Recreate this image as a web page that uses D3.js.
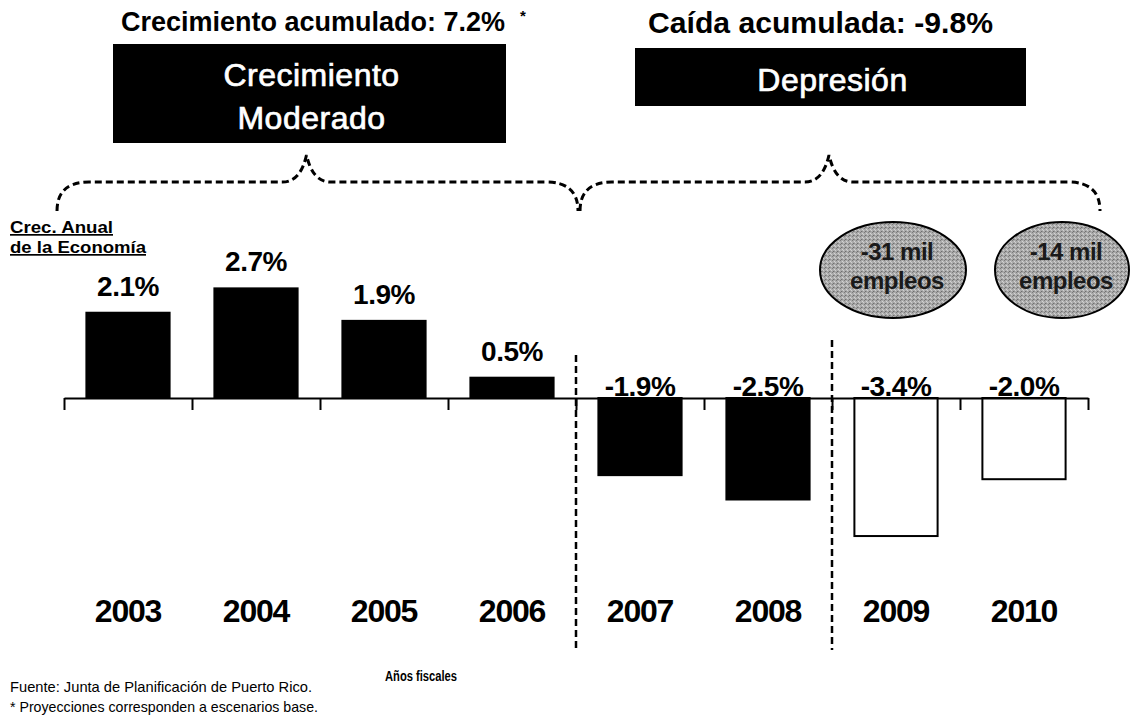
<html>
<style>
body{margin:0;background:#fff;}
text{font-family:Arial,"Liberation Sans",sans-serif;}
</style>
<script src="https://cdnjs.cloudflare.com/ajax/libs/d3/7.8.5/d3.min.js"></script>
<body>
<svg id="chart" width="1131" height="717"></svg>
<script>
// datos
const years = ["2003","2004","2005","2006","2007","2008","2009","2010"];
const growth = [2.1, 2.7, 1.9, 0.5, -1.9, -2.5, -3.4, -2.0];
const projected = [false,false,false,false,false,false,true,true];
const periodTitles = ["Crecimiento acumulado: 7.2%", "Caída acumulada: -9.8%"];
const periodNames = [["Crecimiento","Moderado"], ["Depresión"]];
const periodSpans = [[0,4],[4,8]];
const jobsLost = [["-31 mil","empleos"], ["-14 mil","empleos"]];
const jobsYears = ["2009","2010"];
const dividers = [4, 6];

const svg = d3.select("#chart");

const x = d3.scaleBand().domain(years).range([64,1088]).paddingInner(0.35).paddingOuter(0.175);
const xt = d3.scaleLinear().domain([0, years.length]).range([64,1088]);
const y = d3.scaleLinear().domain([-4, 3]).range([398 + 4*40.6, 398 - 3*40.6]);

// textura de las elipses
const pat = svg.append("defs").append("pattern").attr("id","grain")
  .attr("width",4).attr("height",4).attr("patternUnits","userSpaceOnUse");
pat.append("rect").attr("width",4).attr("height",4).attr("fill","#ababab");
[[0,0,"#7c7c7c"],[2,1,"#d4d4d4"],[1,3,"#6e6e6e"],[3,2,"#cfcfcf"],[2,3,"#939393"]].forEach(p=>{
  pat.append("rect").attr("x",p[0]).attr("y",p[1]).attr("width",1).attr("height",1).attr("fill",p[2]);
});

// barras
svg.selectAll("rect.bar").data(years).enter().append("rect")
  .attr("class","bar")
  .attr("x", d => x(d))
  .attr("width", x.bandwidth())
  .attr("y", (d,i) => y(Math.max(0, growth[i])))
  .attr("height", (d,i) => Math.abs(y(growth[i]) - y(0)))
  .attr("fill", (d,i) => projected[i] ? "#fff" : "#000")
  .attr("stroke", "#000")
  .attr("stroke-width", 2);

// eje
const axis = d3.axisBottom(xt).tickValues(d3.range(0, years.length+1)).tickFormat("").tickSizeInner(12).tickSizeOuter(0);
const ag = svg.append("g").attr("transform","translate(0,"+y(0)+")").call(axis);
ag.select(".domain").attr("stroke","#000").attr("stroke-width",2);
ag.selectAll(".tick line").attr("stroke","#000").attr("stroke-width",2);

// etiquetas de valores
svg.selectAll("text.val").data(years).enter().append("text")
  .attr("class","val")
  .attr("x", d => x(d) + x.bandwidth()/2)
  .attr("y", (d,i) => growth[i] > 0 ? y(growth[i]) - 17 : y(0) - 2)
  .attr("text-anchor","middle")
  .attr("font-size",28).attr("font-weight","bold")
  .attr("letter-spacing",-0.5)
  .text((d,i) => growth[i].toFixed(1) + "%");

// años
svg.selectAll("text.yr").data(years).enter().append("text")
  .attr("class","yr")
  .attr("x", d => x(d) + x.bandwidth()/2)
  .attr("y", 622)
  .attr("text-anchor","middle")
  .attr("font-size",32).attr("font-weight","bold")
  .attr("letter-spacing",-1.2)
  .text(d => d);

// lineas divisorias
svg.selectAll("line.div").data(dividers).enter().append("line")
  .attr("x1", d => xt(d)).attr("x2", d => xt(d))
  .attr("y1", (d,i) => i === 0 ? 355 : 340).attr("y2", 650)
  .attr("stroke","#000").attr("stroke-width",2.5).attr("stroke-dasharray","7,4");

// llaves
periodSpans.forEach((s,i) => {
  const x0 = xt(s[0]) + (i === 0 ? -7 : 4);
  const x1 = xt(s[1]) + (i === 0 ? 2 : 12);
  const pk = (x0 + x1)/2 - 11;
  const yb = 211, yh = 182, yp = 155;
  const p = d3.path();
  p.moveTo(x0, yb);
  p.quadraticCurveTo(x0, yh, x0 + 32, yh);
  p.lineTo(pk - 24, yh);
  p.quadraticCurveTo(pk - 6, yh, pk, yp);
  p.quadraticCurveTo(pk + 6, yh, pk + 24, yh);
  p.lineTo(x1 - 32, yh);
  p.quadraticCurveTo(x1, yh, x1, yb);
  svg.append("path").attr("d", p.toString()).attr("fill","none")
    .attr("stroke","#000").attr("stroke-width",3).attr("stroke-dasharray","7,4");
});

// cajas de periodo
const boxes = [
  {x:113, y:44, w:393, h:99, ty:31, tx:121, tl:384, fs:27},
  {x:635, y:48, w:391, h:58, ty:33, tx:648, tl:345, fs:30}
];
boxes.forEach((b,i) => {
  svg.append("text").attr("x", b.tx).attr("y", b.ty)
    .attr("font-size", b.fs).attr("font-weight","bold")
    .attr("textLength", b.tl).attr("lengthAdjust","spacingAndGlyphs")
    .text(periodTitles[i]);
  svg.append("rect").attr("x", b.x).attr("y", b.y).attr("width", b.w).attr("height", b.h).attr("fill","#000");
  const lines = periodNames[i];
  lines.forEach((t,j) => {
    svg.append("text").attr("x", b.x + b.w/2 + 2)
      .attr("y", lines.length > 1 ? b.y + 42 + j*43 : b.y + 43)
      .attr("text-anchor","middle").attr("font-size",32)
      .attr("fill","#fff").attr("stroke","#fff").attr("stroke-width",0.7)
      .attr("letter-spacing",0.5)
      .text(t);
  });
});
svg.append("text").attr("x",520).attr("y",21).attr("font-size",15).attr("font-weight","bold").text("*");

// elipses de empleos
jobsYears.forEach((yr,i) => {
  const cx = x(yr) + x.bandwidth()/2 + (i === 0 ? -3 : 38);
  const rx = i === 0 ? 73 : 67;
  svg.append("ellipse").attr("cx", cx).attr("cy", 270).attr("rx", rx).attr("ry", 48)
    .attr("fill","url(#grain)").attr("stroke","#000").attr("stroke-width",2);
  jobsLost[i].forEach((t,j) => {
    svg.append("text").attr("x", cx + 4).attr("y", 260 + j*29)
      .attr("text-anchor","middle").attr("font-size",24).attr("font-weight","bold")
      .attr("fill","#1a1a1a").attr("letter-spacing",-0.5)
      .text(t);
  });
});

// rotulo del eje
svg.append("text").attr("x",10).attr("y",233).attr("font-size",17).attr("font-weight","bold")
  .attr("text-decoration","underline").attr("textLength",103).attr("lengthAdjust","spacingAndGlyphs").text("Crec. Anual");
svg.append("text").attr("x",10).attr("y",253).attr("font-size",17).attr("font-weight","bold")
  .attr("text-decoration","underline").attr("textLength",136).attr("lengthAdjust","spacingAndGlyphs").text("de la Economía");

// notas
svg.append("text").attr("x",10).attr("y",692).attr("font-size",15)
  .attr("textLength",302).attr("lengthAdjust","spacingAndGlyphs").text("Fuente: Junta de Planificación de Puerto Rico.");
svg.append("text").attr("x",10).attr("y",712).attr("font-size",15)
  .attr("textLength",308).attr("lengthAdjust","spacingAndGlyphs").text("* Proyecciones corresponden a escenarios base.");
svg.append("text").attr("x",385).attr("y",681).attr("font-size",14).attr("font-weight","bold")
  .attr("textLength",72).attr("lengthAdjust","spacingAndGlyphs").text("Años fiscales");
</script>
</body>
</html>
